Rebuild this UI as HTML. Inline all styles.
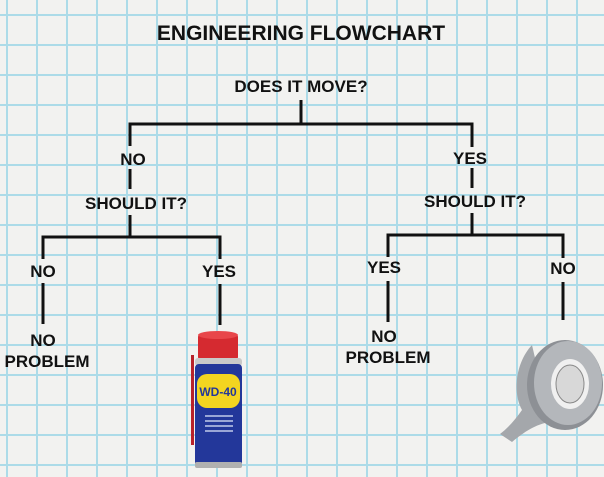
<!DOCTYPE html>
<html><head><meta charset="utf-8"><style>
html,body{margin:0;padding:0}
body{width:604px;height:477px;overflow:hidden;background:#f2f2f0;position:relative;font-family:"Liberation Sans",sans-serif}
.grid{position:absolute;left:0;top:0;width:604px;height:477px;
background-image:linear-gradient(to right,#acdbe8 0,#acdbe8 2px,transparent 2px),linear-gradient(to bottom,#acdbe8 0,#acdbe8 2px,transparent 2px);
background-size:30px 30px;background-position:6px 14px}
svg{position:absolute;left:0;top:0}
</style></head><body>
<div class="grid"></div>
<svg width="604" height="477" viewBox="0 0 604 477">
<g font-family="Liberation Sans, sans-serif" font-weight="bold" fill="#111" text-anchor="middle">
<text x="301" y="40" font-size="21">ENGINEERING FLOWCHART</text>
<text x="301" y="92" font-size="17">DOES IT MOVE?</text>
<text x="133" y="165" font-size="17">NO</text>
<text x="136" y="209" font-size="17">SHOULD IT?</text>
<text x="43" y="277" font-size="17">NO</text>
<text x="219" y="277" font-size="17">YES</text>
<text x="43" y="346" font-size="17">NO</text>
<text x="47" y="367" font-size="17">PROBLEM</text>
<text x="470" y="164" font-size="17">YES</text>
<text x="475" y="207" font-size="17">SHOULD IT?</text>
<text x="384" y="273" font-size="17">YES</text>
<text x="563" y="274" font-size="17">NO</text>
<text x="384" y="342" font-size="17">NO</text>
<text x="388" y="363" font-size="17">PROBLEM</text>
</g>
<g stroke="#111" stroke-width="3" fill="none">
<path d="M301 100V124M130 146V124H472V147"/>
<path d="M130 169V189M130 215V237M43 259V237H220V259"/>
<path d="M43 283V324M220 284V325"/>
<path d="M472 168V188M472 213V235M388 257V235H563V258"/>
<path d="M388 281V322M563 282V320"/>
</g>
<!-- WD-40 can -->
<g>
<rect x="191" y="355" width="3" height="90" fill="#b8222a"/>
<rect x="198" y="334" width="40" height="26" rx="3" fill="#d52a30"/>
<ellipse cx="218" cy="335" rx="20" ry="4" fill="#e8464a"/>
<rect x="195" y="358" width="47" height="8" rx="3" fill="#c9c9c9"/>
<rect x="195" y="364" width="47" height="102" rx="4" fill="#23379a"/>
<rect x="197" y="374" width="43" height="34" rx="10" fill="#f3d520"/>
<text x="218" y="396" font-family="Liberation Sans,sans-serif" font-weight="bold" font-size="12" fill="#23379a" text-anchor="middle">WD-40</text>
<rect x="205" y="415" width="28" height="2" fill="#9aa6d6"/>
<rect x="205" y="420" width="28" height="2" fill="#9aa6d6"/>
<rect x="205" y="425" width="28" height="2" fill="#9aa6d6"/>
<rect x="205" y="430" width="28" height="2" fill="#9aa6d6"/>
<rect x="195" y="462" width="47" height="6" rx="2" fill="#b0b0b0"/>
</g>
<!-- duct tape -->
<g>
<path d="M532 345 C516 362 512 392 522 410 C515 420 508 428 500 434 L512 442 C524 432 536 424 550 422 Z" fill="#a4a7ab"/>
<ellipse cx="565" cy="385" rx="38" ry="45" fill="#8d9095"/>
<ellipse cx="568" cy="383" rx="34" ry="42" fill="#b4b7bb"/>
<ellipse cx="570" cy="384" rx="19" ry="25" fill="#f0f0f0"/>
<ellipse cx="570" cy="384" rx="14" ry="19" fill="#d8d8d8" stroke="#888" stroke-width="1"/>
</g>
</svg>
</body></html>
